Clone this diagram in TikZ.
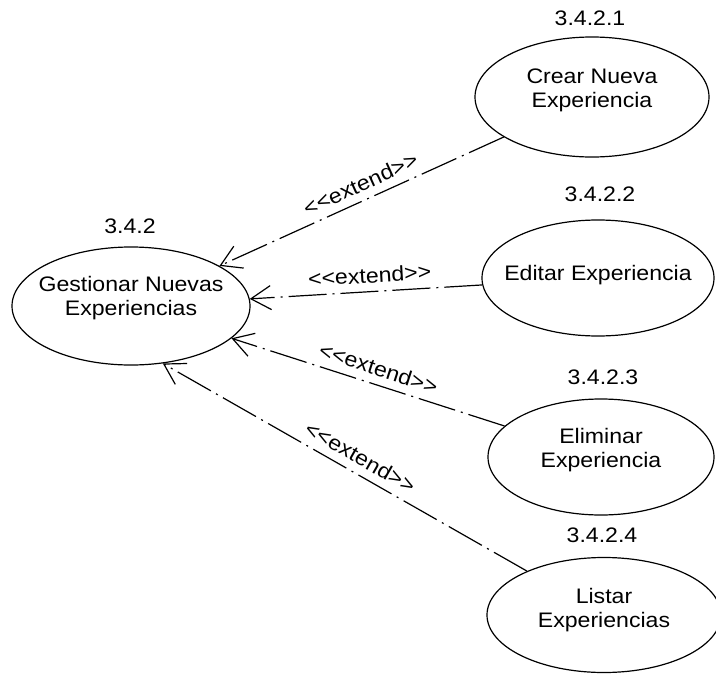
\documentclass[tikz,border=0pt]{standalone}
\usepackage{fontspec}
\setmainfont{Liberation Sans}[FakeStretch=1.1]
\newfontfamily\lblfont{Liberation Sans}[FakeStretch=1.1]
\usetikzlibrary{shapes.geometric,arrows.meta}
\begin{document}
\begin{tikzpicture}[x=1pt,y=-1pt,
  uc/.style={draw, ellipse, line width=1.2pt, inner sep=0pt},
  txt/.style={font=\fontsize{21}{24}\selectfont, align=center, inner sep=0pt},
  num/.style={font=\fontsize{21}{24}\selectfont, inner sep=0pt},
  ext/.style={line width=1.2pt, dash pattern=on 38pt off 6pt on 2pt off 6pt,
    -{Straight Barb[length=20pt,width=24pt]}},
  lbl/.style={font=\lblfont\fontsize{21}{24}\selectfont, sloped, above=8pt, inner sep=0pt, pos=0.48}]
\useasboundingbox (0,0) rectangle (716,675);
\clip (0,0) rectangle (716,675);

\node[uc, minimum width=238pt, minimum height=118pt] (gest) at (131,306) {};
\node[uc, minimum width=234pt, minimum height=120pt] (crear) at (592,97) {};
\node[uc, minimum width=232pt, minimum height=116pt] (editar) at (598,278) {};
\node[uc, minimum width=226pt, minimum height=116pt] (elim) at (601,457) {};
\node[uc, minimum width=234pt, minimum height=115pt] (listar) at (604,615) {};

\node[txt] (gestt) at ([yshift=8pt]gest.center) {Gestionar Nuevas\\Experiencias};
\node[txt] (creart) at ([yshift=7pt]crear.center) {Crear Nueva\\Experiencia};
\node[txt] (editart) at ([yshift=3pt]editar.center) {Editar Experiencia};
\node[txt] (elimt) at ([yshift=7pt]elim.center) {Eliminar\\Experiencia};
\node[txt] (listart) at ([yshift=5pt]listar.center) {Listar\\Experiencias};

\node[num] (n0) at (130,226) {3.4.2};
\node[num] (n1) at (590,18) {3.4.2.1};
\node[num] (n2) at (600,194) {3.4.2.2};
\node[num] (n3) at (603,377) {3.4.2.3};
\node[num] (n4) at (602,535) {3.4.2.4};

\draw[ext] (crear) -- node[lbl] {<<extend>>} (gest);
\draw[ext] (editar) -- node[lbl] {<<extend>>} (gest);
\draw[ext] (elim) -- node[lbl] {<<extend>>} (gest);
\draw[ext] (listar) -- node[lbl] {<<extend>>} (gest.-61);
\end{tikzpicture}
\end{document}
